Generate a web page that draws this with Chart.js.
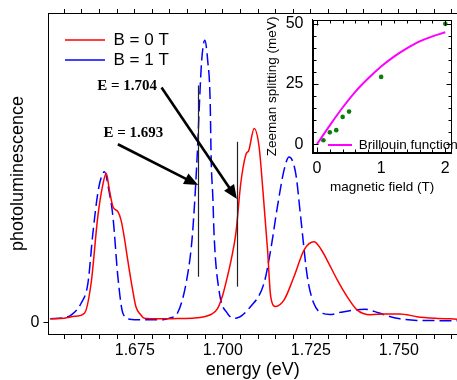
<!DOCTYPE html>
<html><head><meta charset="utf-8">
<script src="https://cdn.jsdelivr.net/npm/chart.js@4.4.0/dist/chart.umd.min.js"></script>
<style>
html,body{margin:0;padding:0;background:#fff;}
#wrap{position:relative;width:457px;height:380px;overflow:hidden;background:#fff;}
#main{position:absolute;left:0;top:0;}
#inset{position:absolute;left:260px;top:0;}
</style></head><body>
<div id="wrap">
<canvas id="main" width="457" height="380" style="width:457px;height:380px"></canvas>
<canvas id="inset" width="197" height="200" style="width:197px;height:200px"></canvas>
</div>
<script>
// ---------- data: main PL spectra ----------
const seriesLabels = ['B = 0 T', 'B = 1 T'];
const energyRed = [1.6510,1.6550,1.6580,1.6607,1.6626,1.6645,1.6659,1.6669,1.6678,1.6688,1.6702,1.6711,1.6720,1.6730,1.6744,1.6753,1.6767,1.6777,1.6820,1.6870,1.6920,1.6947,1.6966,1.6985,1.7000,1.7013,1.7025,1.7037,1.7051,1.7065,1.7074,1.7089,1.7103,1.7113,1.7127,1.7136,1.7150,1.7174,1.7202,1.7231,1.7259,1.7277,1.7296,1.7325,1.7353,1.7381,1.7419,1.7461,1.7503,1.7551,1.7603,1.7665];
const plRed     = [1.2,1.4,2.0,3.0,12.7,34.2,44.4,48.2,42.8,37.4,35.8,33.1,27.7,20.2,10.5,5.2,2.5,1.4,1.2,1.3,1.5,1.9,2.6,4.5,9.0,14.8,21.0,28.8,45.0,54.1,55.7,62.7,56.8,43.9,23.5,8.4,5.2,7.3,14.8,23.5,26.1,24.0,20.2,13.8,8.4,4.1,2.5,2.8,2.8,1.9,1.4,1.1];
const energyBlue = [1.6510,1.6550,1.6570,1.6598,1.6617,1.6631,1.6645,1.6655,1.6664,1.6676,1.6688,1.6702,1.6716,1.6735,1.6780,1.6830,1.6850,1.6871,1.6899,1.6914,1.6928,1.6934,1.6940,1.6949,1.6957,1.6964,1.6967,1.6972,1.6975,1.6989,1.7013,1.7036,1.7079,1.7117,1.7136,1.7155,1.7174,1.7188,1.7207,1.7221,1.7240,1.7258,1.7282,1.7305,1.7334,1.7370,1.7404,1.7430,1.7456,1.7494,1.7551,1.7665];
const plBlue     = [1.2,1.6,2.5,6.3,12.7,28.8,41.8,47.0,48.7,43.0,34.2,14.8,3.1,1.1,0.9,0.9,1.5,3.0,14.8,28.8,55.7,71.8,84.7,91.2,84.7,71.8,52.5,39.6,28.8,10.5,3.0,1.4,5.2,12.7,23.5,37.4,49.3,53.5,48.2,34.2,14.8,6.3,3.0,2.6,3.3,4.0,4.3,3.6,2.6,1.4,0.7,0.6];
const energyTickLabels = ['1.675','1.700','1.725','1.750'];
const plTickLabels = ['0'];

// ---------- data: annotations ----------
const annoLabels = ['E = 1.693', 'E = 1.704'];
const annoEnergy = [1.693, 1.704];

// ---------- data: inset (Zeeman splitting) ----------
const fieldT = [0.1,0.2,0.3,0.4,0.5,1.0,2.0];
const splittingMeV = [1.6,4.9,5.8,11.3,13.5,27.9,49.9];
const brillField = [0,0.2,0.4,0.6,0.8,1.0,1.2,1.4,1.6,1.8,2.0];
const brillSplit = [0,7.8,15.2,21.8,27.3,32.2,36.3,39.7,42.6,44.7,46.4];
const insetLegendLabel = 'Brillouin function';
const fieldTickLabels = ['0','1','2'];
const splitTickLabels = ['0','25','50'];

// ---------- layout / style ----------
const FONT = '"Liberation Sans", Arial, Helvetica, sans-serif';
Chart.defaults.font.family = FONT;
Chart.defaults.color = '#000';

const X_MIN = 1.6505, X_MAX = 1.7665, Y_MIN = -3.7, Y_MAX = 100;
const energyMinorTicks = [];
for (let k = 331; k <= 353; k++) energyMinorTicks.push(+(k * 0.005).toFixed(3));

// annotation geometry (data coordinates)
const annoGeom = [
  {lineY:[14.8,76.6], from:[1.6702,57.6], tipY:44.4, text:[1.6746,61.2]},
  {lineY:[11.6,58.4], from:[1.6826,75.9], tipY:39.9, text:[1.6728,76.4]}
];

function moveLegend(chart, left, top) {
  const lg = chart.legend; if (!lg) return;
  const dx = left - lg.left, dy = top - lg.top;
  lg.left += dx; lg.right += dx; lg.top += dy; lg.bottom += dy;
}
function zeroPad(s){ s.paddingTop = 0; s.paddingBottom = 0; s.paddingLeft = 0; s.paddingRight = 0; }

const annotationPlugin = {
  id: 'annot',
  afterDatasetsDraw(chart) {
    const {ctx, scales:{x, y}} = chart;
    ctx.save();
    annoGeom.forEach((g, i) => {
      const lx = x.getPixelForValue(annoEnergy[i]);
      // vertical marker line
      ctx.strokeStyle = '#222'; ctx.lineWidth = 1.2; ctx.setLineDash([]);
      ctx.beginPath();
      ctx.moveTo(Math.round(lx) + 0.5, y.getPixelForValue(g.lineY[0]));
      ctx.lineTo(Math.round(lx) + 0.5, y.getPixelForValue(g.lineY[1]));
      ctx.stroke();
      // arrow
      const x0 = x.getPixelForValue(g.from[0]), y0 = y.getPixelForValue(g.from[1]);
      const x1 = lx, y1 = y.getPixelForValue(g.tipY);
      const ang = Math.atan2(y1 - y0, x1 - x0);
      const hl = 14, hw = 6;
      const bx = x1 - hl * Math.cos(ang), by = y1 - hl * Math.sin(ang);
      ctx.strokeStyle = '#000'; ctx.lineWidth = 2.6;
      ctx.beginPath(); ctx.moveTo(x0, y0); ctx.lineTo(bx + 2*Math.cos(ang), by + 2*Math.sin(ang)); ctx.stroke();
      ctx.fillStyle = '#000';
      ctx.beginPath();
      ctx.moveTo(x1, y1);
      ctx.lineTo(bx - hw * Math.sin(ang), by + hw * Math.cos(ang));
      ctx.lineTo(bx + hw * Math.sin(ang), by - hw * Math.cos(ang));
      ctx.closePath(); ctx.fill();
      // label
      ctx.font = 'bold 15px "Liberation Serif", "Times New Roman", serif';
      ctx.textAlign = 'center'; ctx.textBaseline = 'middle';
      ctx.fillText(annoLabels[i], x.getPixelForValue(g.text[0]), y.getPixelForValue(g.text[1]));
    });
    ctx.restore();
  },
  afterLayout(chart) { moveLegend(chart, 62, 28.5); }
};

const mainChart = new Chart(document.getElementById('main'), {
  type: 'line',
  data: { datasets: [
    { label: seriesLabels[0], data: energyRed.map((e, i) => ({x: e, y: plRed[i]})),
      borderColor: '#ff0000', backgroundColor: '#ff0000', borderWidth: 1.5, pointRadius: 0,
      cubicInterpolationMode: 'monotone', fill: false },
    { label: seriesLabels[1], data: energyBlue.map((e, i) => ({x: e, y: plBlue[i]})),
      borderColor: '#0000ff', backgroundColor: '#0000ff', borderWidth: 1.5, borderDash: [12, 5], pointRadius: 0,
      cubicInterpolationMode: 'monotone', fill: false }
  ]},
  options: {
    responsive: false, animation: false, devicePixelRatio: 1,
    layout: { padding: 0 },
    plugins: {
      tooltip: { enabled: false },
      legend: { position: 'chartArea', align: 'start',
        labels: { usePointStyle: true, pointStyle: 'line', pointStyleWidth: 40, padding: 3,
                  color: '#000', font: { size: 17 } } }
    },
    scales: {
      x: { type: 'linear', position: 'bottom', min: X_MIN, max: X_MAX,
        afterBuildTicks: s => { s.ticks = energyMinorTicks.map(v => ({value: v})); },
        afterFit: s => { s.height = 46; zeroPad(s); },
        grid: { drawOnChartArea: false, tickLength: 5, tickColor: '#000', tickWidth: 1 },
        border: { color: '#000', width: 1 },
        ticks: { autoSkip: false, maxRotation: 0, minRotation: 0, padding: 2, color: '#000', font: { size: 16 },
          callback: v => energyTickLabels.includes(v.toFixed(3)) ? v.toFixed(3) : '' },
        title: { display: true, text: 'energy (eV)', color: '#000', font: { size: 18 }, padding: { top: 0, bottom: -1 } } },
      xTop: { type: 'linear', position: 'top', min: X_MIN, max: X_MAX,
        afterBuildTicks: s => { s.ticks = energyMinorTicks.map(v => ({value: v})); },
        afterFit: s => { s.height = 13; zeroPad(s); },
        grid: { drawOnChartArea: false, tickLength: 4, tickColor: '#000' },
        border: { color: '#000', width: 1 },
        ticks: { display: false } },
      y: { type: 'linear', position: 'left', min: Y_MIN, max: Y_MAX,
        afterBuildTicks: s => { s.ticks = plTickLabels.map(v => ({value: +v})); },
        afterFit: s => { s.width = 48.5; zeroPad(s); },
        grid: { drawOnChartArea: false, tickLength: 5, tickColor: '#000' },
        border: { color: '#000', width: 1 },
        ticks: { padding: 4, color: '#000', font: { size: 16 }, callback: v => plTickLabels.includes(String(v)) ? String(v) : '' },
        title: { display: true, text: 'photoluminescence', color: '#000', font: { size: 18 }, padding: { top: 7, bottom: 0 } } }
    }
  },
  plugins: [annotationPlugin]
});

// ---------- inset ----------
const fieldMinorTicks = [0,0.2,0.4,0.6,0.8,1.0,1.2,1.4,1.6,1.8,2.0];
const splitMinorTicks = [0,5,10,15,20,25,30,35,40,45,50];
const insetFrame = {
  id: 'insetFrame',
  afterDraw(chart) {
    const {ctx, chartArea: a, scales: {x, y}} = chart;
    ctx.save();
    ctx.strokeStyle = '#000'; ctx.lineWidth = 1;
    const L = Math.round(a.left) + 0.5, R = Math.round(a.right) - 0.5, T = Math.round(a.top) + 0.5, B = Math.round(a.bottom) - 0.5;
    ctx.strokeRect(L, T, R - L, B - T);
    ctx.beginPath();
    fieldMinorTicks.forEach(v => {
      const px = Math.round(x.getPixelForValue(v)) + 0.5;
      const len = fieldTickLabels.includes(String(v)) ? 5 : 3;
      ctx.moveTo(px, B); ctx.lineTo(px, B - len);
      ctx.moveTo(px, T); ctx.lineTo(px, T + len);
    });
    splitMinorTicks.forEach(v => {
      const py = Math.round(y.getPixelForValue(v)) + 0.5;
      const len = splitTickLabels.includes(String(v)) ? 5 : 3;
      ctx.moveTo(L, py); ctx.lineTo(L + len, py);
      ctx.moveTo(R, py); ctx.lineTo(R - len, py);
    });
    ctx.stroke();
    ctx.restore();
  },
  afterLayout(chart) { moveLegend(chart, 68 - 3, 145 - 6.75 - 3); }
};

const insetChart = new Chart(document.getElementById('inset'), {
  type: 'scatter',
  data: { datasets: [
    { label: insetLegendLabel, data: brillField.map((b, i) => ({x: b, y: brillSplit[i]})),
      showLine: true, borderColor: '#ff00ff', backgroundColor: '#ff00ff', borderWidth: 2, pointRadius: 0,
      cubicInterpolationMode: 'monotone' },
    { label: 'data', data: fieldT.map((b, i) => ({x: b, y: splittingMeV[i]})),
      showLine: false, pointRadius: 2.3, pointStyle: 'circle', borderWidth: 0,
      backgroundColor: '#0a7d0a', borderColor: '#0a7d0a' }
  ]},
  options: {
    responsive: false, animation: false, devicePixelRatio: 1,
    layout: { padding: { top: 19.5, right: 5.3, left: 0, bottom: 0 } },
    plugins: {
      tooltip: { enabled: false },
      legend: { position: 'chartArea', align: 'start',
        labels: { usePointStyle: true, pointStyle: 'line', pointStyleWidth: 24, padding: 3,
                  color: '#000', font: { size: 13.5 },
                  filter: item => item.datasetIndex === 0 } }
    },
    scales: {
      x: { type: 'linear', position: 'bottom', min: -0.07, max: 2.1,
        afterBuildTicks: s => { s.ticks = fieldTickLabels.map(v => ({value: +v})); },
        afterFit: s => { s.height = 46.7; zeroPad(s); },
        grid: { display: true, drawOnChartArea: false, drawTicks: false },
        border: { color: '#000', width: 1 },
        ticks: { padding: 6, color: '#000', font: { size: 16 }, maxRotation: 0, autoSkip: false },
        title: { display: true, text: 'magnetic field (T)', color: '#000', font: { size: 13.5 }, padding: { top: 0, bottom: 4.4 } } },
      y: { type: 'linear', position: 'left', min: -3.8, max: 51.7,
        afterBuildTicks: s => { s.ticks = splitTickLabels.map(v => ({value: +v})); },
        afterFit: s => { s.width = 52.5; zeroPad(s); },
        grid: { display: true, drawOnChartArea: false, drawTicks: false },
        border: { color: '#000', width: 1 },
        ticks: { padding: 9, color: '#000', font: { size: 16 }, autoSkip: false },
        title: { display: true, text: 'Zeeman splitting (meV)', color: '#000', font: { size: 13.5 }, padding: { top: 4, bottom: 0 } } }
    }
  },
  plugins: [insetFrame]
});
</script>
</body></html>
